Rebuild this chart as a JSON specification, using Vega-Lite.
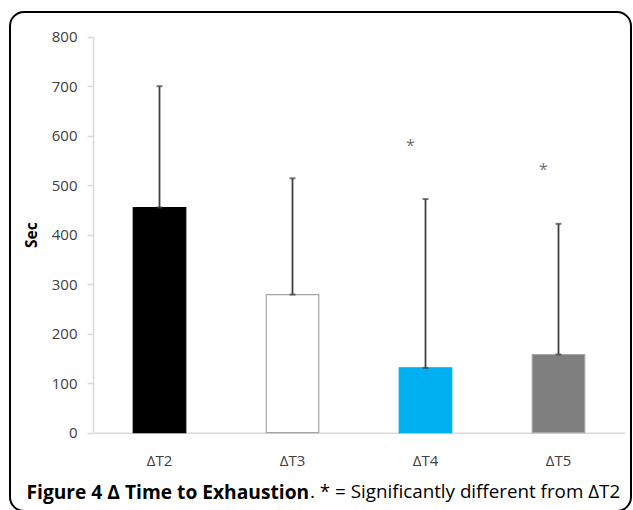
{
  "$schema": "https://vega.github.io/schema/vega-lite/v6.json",
  "autosize": {"type": "none"},
  "width": 621,
  "height": 499,
  "padding": {"left": 10, "top": 12, "right": 2, "bottom": 0},
  "config": {
    "view": {"stroke": "#000000", "strokeWidth": 2, "cornerRadius": 14},
    "font": "Open Sans"
  },
  "data": {
    "values": [
      {"cat": "ΔT2", "value": 455, "upper": 700, "star": null},
      {"cat": "ΔT3", "value": 279, "upper": 514, "star": null},
      {"cat": "ΔT4", "value": 131, "upper": 472, "star": 586},
      {"cat": "ΔT5", "value": 158, "upper": 422, "star": 537}
    ]
  },
  "title": {
    "text": ". * = Significantly different from ΔT2",
    "orient": "bottom",
    "anchor": "start",
    "frame": "group",
    "offset": 0,
    "dx": 300,
    "dy": -13,
    "baseline": "alphabetic",
    "font": "Open Sans",
    "fontSize": 18.8,
    "fontWeight": "normal",
    "color": "#000000"
  },
  "encoding": {
    "x": {
      "field": "cat",
      "type": "nominal",
      "sort": null,
      "scale": {"range": [83, 615], "paddingInner": 0.605, "paddingOuter": 0.3025},
      "axis": {
        "offset": -78.3,
        "domainColor": "#d9d9d9",
        "domainWidth": 1.5,
        "ticks": false,
        "labelAngle": 0,
        "labelPadding": 21,
        "labelFontSize": 15,
        "labelColor": "#404040",
        "title": "Figure 4 Δ Time to Exhaustion",
        "titleFont": "Open Sans",
        "titleFontSize": 19.2,
        "titleFontWeight": "bold",
        "titleColor": "#000000",
        "titleAnchor": "start",
        "titleAlign": "left",
        "titleBaseline": "alphabetic",
        "titleX": 16,
        "titleY": 65.3
      }
    }
  },
  "layer": [
    {
      "mark": {"type": "bar", "strokeWidth": 1.2},
      "encoding": {
        "y": {
          "field": "value",
          "type": "quantitative",
          "title": "Sec",
          "scale": {"domain": [0, 800], "range": [420.7, 24.7], "nice": false, "zero": true},
          "axis": {
            "offset": -83,
            "values": [0, 100, 200, 300, 400, 500, 600, 700, 800],
            "grid": false,
            "domainColor": "#d9d9d9",
            "domainWidth": 1.5,
            "tickColor": "#d9d9d9",
            "tickSize": 6,
            "tickWidth": 1.5,
            "labelPadding": 10,
            "labelFontSize": 15,
            "labelColor": "#404040",
            "titleFont": "Open Sans",
            "titleFontSize": 15.5,
            "titleFontWeight": "bold",
            "titleColor": "#000000",
            "titlePadding": 12
          }
        },
        "fill": {
          "field": "cat",
          "type": "nominal",
          "sort": null,
          "scale": {"domain": ["ΔT2", "ΔT3", "ΔT4", "ΔT5"], "range": ["#000000", "#ffffff", "#00b0f0", "#7f7f7f"]},
          "legend": null
        },
        "stroke": {
          "field": "cat",
          "type": "nominal",
          "sort": null,
          "scale": {"domain": ["ΔT2", "ΔT3", "ΔT4", "ΔT5"], "range": ["#000000", "#a6a6a6", "#00b0f0", "#a6a6a6"]},
          "legend": null
        }
      }
    },
    {
      "mark": {"type": "rule", "color": "#404040", "strokeWidth": 1.8},
      "encoding": {
        "y": {"field": "value", "type": "quantitative", "title": "Sec"},
        "y2": {"field": "upper"}
      }
    },
    {
      "mark": {"type": "tick", "color": "#404040", "size": 6, "thickness": 2},
      "encoding": {
        "y": {"field": "upper", "type": "quantitative", "title": "Sec"}
      }
    },
    {
      "mark": {"type": "tick", "color": "#404040", "size": 6, "thickness": 2},
      "encoding": {
        "y": {"field": "value", "type": "quantitative", "title": "Sec"}
      }
    },
    {
      "transform": [{"filter": "datum.star != null"}],
      "mark": {"type": "text", "text": "*", "color": "#6f6f6f", "fontSize": 16, "baseline": "alphabetic", "dy": 8, "dx": -15},
      "encoding": {
        "y": {"field": "star", "type": "quantitative", "title": "Sec"}
      }
    }
  ]
}
